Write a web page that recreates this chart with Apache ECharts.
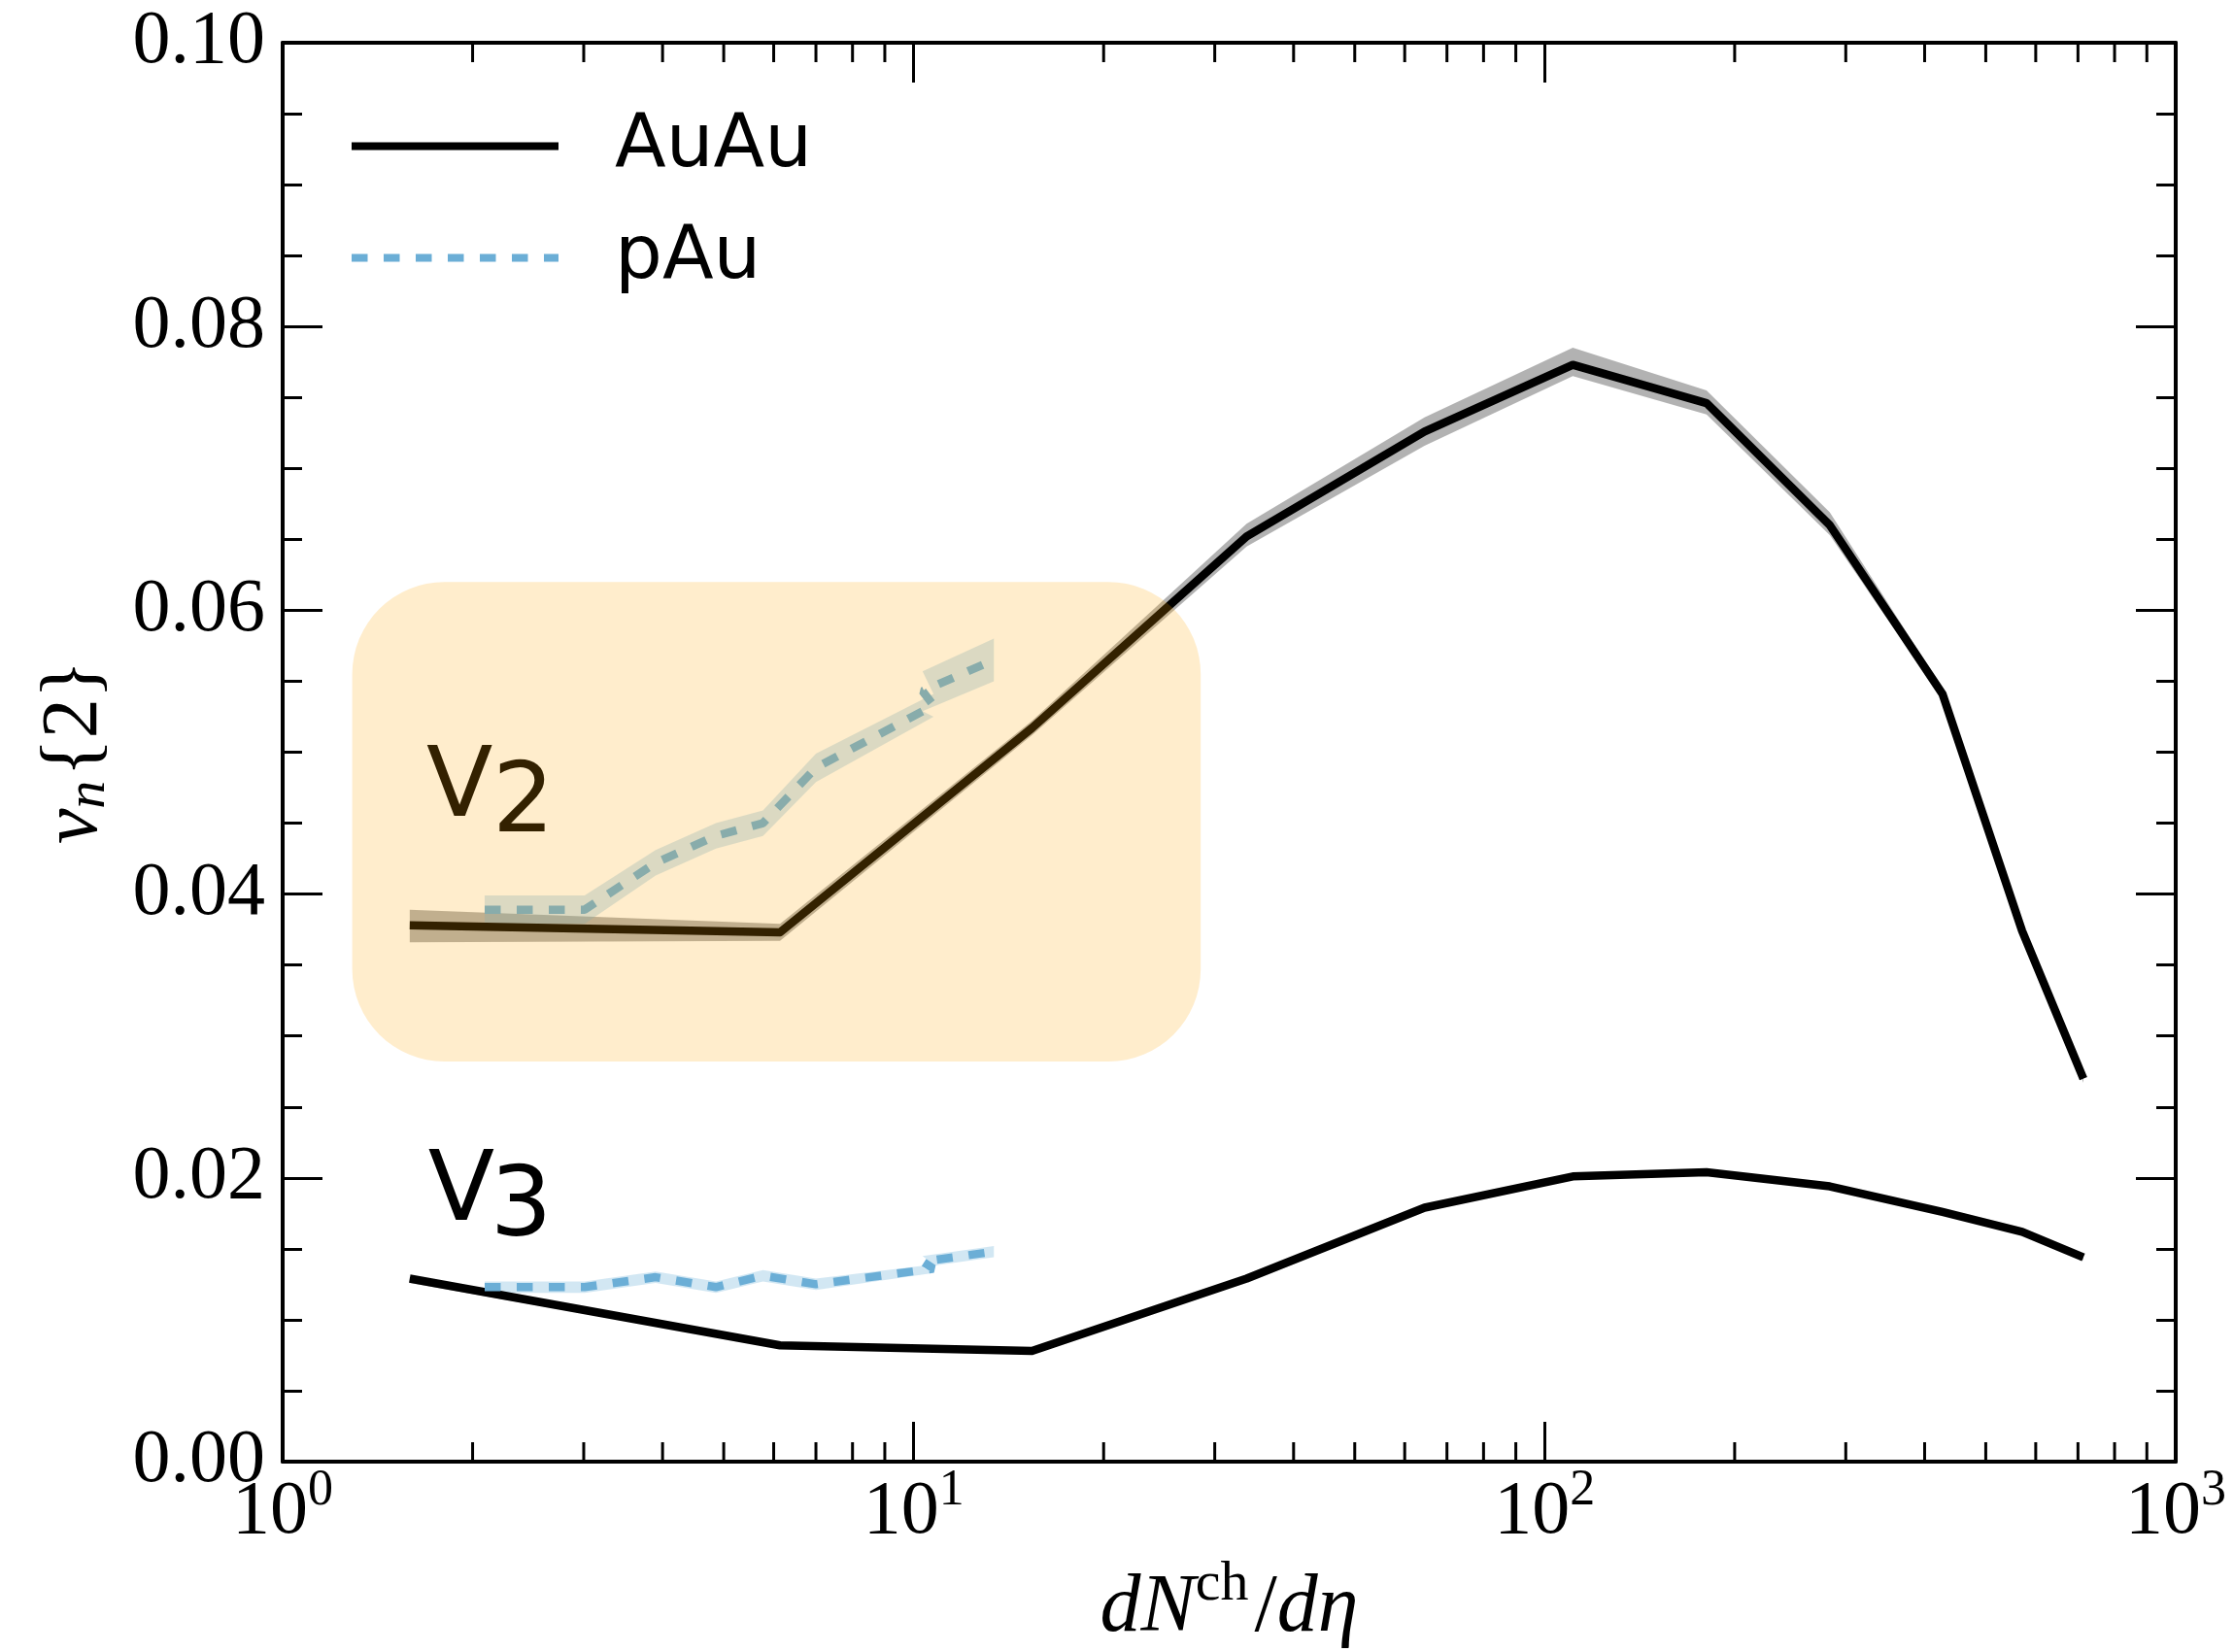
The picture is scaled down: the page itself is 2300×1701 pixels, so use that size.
<!DOCTYPE html>
<html><head><meta charset="utf-8">
<script src="https://cdn.jsdelivr.net/npm/echarts@6/dist/echarts.min.js"></script>
<style>html,body{margin:0;padding:0;background:#fff}#c{width:2300px;height:1701px}</style>
</head><body><div id="c"></div>
<script>
// ---- data ----
const auauX    = [1.59, 6.14, 15.4, 33.7, 64.5, 110.8, 180.5, 283, 427, 571, 714];
const auauV2   = [0.0378, 0.0373, 0.0517, 0.0652, 0.0726, 0.0773, 0.0746, 0.0660, 0.0541, 0.0374, 0.0270];
const auauV2Lo = [0.0366, 0.0367, 0.0512, 0.0645, 0.0716, 0.0765, 0.0738, 0.0653, 0.0537, 0.0371, 0.0267];
const auauV2Hi = [0.0389, 0.0379, 0.0522, 0.0661, 0.0736, 0.0785, 0.0755, 0.0669, 0.0545, 0.0377, 0.0273];
const auauV3   = [0.0129, 0.0082, 0.0078, 0.0129, 0.0179, 0.0201, 0.0204, 0.0194, 0.0176, 0.0162, 0.0144];
const auauV3Lo = [0.0126, 0.0080, 0.0076, 0.0127, 0.0177, 0.0199, 0.0202, 0.0192, 0.0174, 0.0160, 0.0142];
const auauV3Hi = [0.0130, 0.0083, 0.0079, 0.0130, 0.0180, 0.0202, 0.0205, 0.0195, 0.0177, 0.0163, 0.0145];

const pauX     = [2.09, 3.01, 3.90, 4.86, 5.77, 7.00, 10.75, 10.33, 13.4];
const pauV2    = [0.0389, 0.0389, 0.0422, 0.0441, 0.0450, 0.0489, 0.0533, 0.0543, 0.0565];
const pauV2Err = [0.0010, 0.0010, 0.0009, 0.0009, 0.0009, 0.0010, 0.0008, 0.0014, 0.0015];
const pauV3    = [0.0123, 0.0123, 0.0130, 0.0123, 0.0131, 0.0125, 0.0136, 0.0141, 0.0148];
const pauV3Err = [0.0004, 0.0004, 0.0004, 0.0004, 0.0004, 0.0004, 0.0003, 0.0004, 0.0004];

const xMinorTicks = [2,3,4,5,6,7,8,9,20,30,40,50,60,70,80,90,200,300,400,500,600,700,800,900];
const xRange = [1, 1000];
const yRange = [0, 0.1];
const yStep = 0.02;

// annotations (data coordinates)
const boxX = [1.289, 28.5];
const boxY = [0.0282, 0.0620];
const v2Anchor = [1.69, 0.0473];
const v3Anchor = [1.70, 0.0188];

// ---- styles ----
const SERIF = "'Liberation Serif', 'DejaVu Serif', serif";
const SANS = "'DejaVu Sans', sans-serif";
const BLUE = '#6baed6';
const LW = 8.5;

function pairs(xs, ys) { return xs.map((x, i) => [x, ys[i]]); }
function bandSeries(xs, lo, hi, color) {
  return {
    type: 'custom', coordinateSystem: 'cartesian2d', silent: true, z: 1,
    data: xs.map((x, i) => [x, lo[i], hi[i]]),
    encode: { x: 0, y: [1, 2] },
    renderItem(params, api) {
      if (params.dataIndex !== 0) return null;
      const pts = [];
      for (let i = 0; i < xs.length; i++) pts.push(api.coord([xs[i], hi[i]]));
      for (let i = xs.length - 1; i >= 0; i--) pts.push(api.coord([xs[i], lo[i]]));
      return { type: 'polygon', shape: { points: pts }, style: { fill: color } };
    }
  };
}

const axisLine = { show: true, onZero: false, lineStyle: { color: '#000', width: 4 } };
const axisTick = { show: true, inside: true, length: 41, lineStyle: { color: '#000', width: 3 } };

const chart = echarts.init(document.getElementById('c'), null, { renderer: 'canvas' });
chart.setOption({
  animation: false,
  backgroundColor: '#fff',
  grid: { left: 291, right: 60, top: 44, bottom: 196, containLabel: false, outerBoundsMode: 'none' },
  legend: {
    data: ['AuAu', 'pAu'], orient: 'vertical', left: 353, top: 99,
    itemWidth: 213, itemHeight: 20, itemGap: 22,
    itemStyle: { opacity: 0 },
    lineStyle: { width: 8 },
    textStyle: { fontSize: 77, lineHeight: 80, fontFamily: SANS, color: '#000', padding: [13, 0, 0, 53] }
  },
  xAxis: [
    {
      type: 'log', logBase: 10, min: xRange[0], max: xRange[1], position: 'bottom',
      axisLine, axisTick, splitLine: { show: false }, minorTick: { show: false },
      axisLabel: {
        margin: 4, showMinLabel: true, showMaxLabel: true,
        formatter: v => '{b|10}{s|' + Math.round(Math.log10(v)) + '}',
        rich: {
          b: { fontSize: 78, fontFamily: SERIF, color: '#000' },
          s: { fontSize: 52, fontFamily: SERIF, color: '#000', padding: [0, 0, 46, 0] }
        }
      },
      name: '{i|dN}{s|ch}{r|/}{i|dη}', nameLocation: 'middle', nameGap: 98,
      nameTextStyle: {
        rich: {
          i: { fontSize: 84, fontFamily: SERIF, fontStyle: 'italic', color: '#000' },
          s: { fontSize: 58, fontFamily: SERIF, color: '#000', padding: [0, 6, 50, 0] },
          r: { fontSize: 84, fontFamily: SERIF, color: '#000' }
        }
      }
    },
    {
      type: 'log', logBase: 10, min: xRange[0], max: xRange[1], position: 'top',
      axisLine, axisTick, splitLine: { show: false }, axisLabel: { show: false }
    }
  ],
  yAxis: [
    {
      type: 'value', min: yRange[0], max: yRange[1], interval: yStep, position: 'left',
      axisLine, axisTick, splitLine: { show: false },
      minorTick: { show: true, splitNumber: 4, length: 20, lineStyle: { color: '#000', width: 3 } },
      axisLabel: { margin: 18, fontSize: 78, fontFamily: SERIF, color: '#000', formatter: v => v.toFixed(2) },
      name: '{v|v}{n|n}{2}', nameLocation: 'middle', nameRotate: 90, nameGap: 170,
      nameTextStyle: {
        fontSize: 82, fontFamily: SERIF, color: '#000',
        rich: {
          v: { fontSize: 82, fontFamily: SERIF, fontStyle: 'italic', color: '#000' },
          n: { fontSize: 58, fontFamily: SERIF, fontStyle: 'italic', color: '#000', padding: [30, 4, 0, 0] }
        }
      }
    },
    {
      type: 'value', min: yRange[0], max: yRange[1], interval: yStep, position: 'right',
      axisLine, axisTick, splitLine: { show: false }, axisLabel: { show: false },
      minorTick: { show: true, splitNumber: 4, length: 20, lineStyle: { color: '#000', width: 3 } }
    }
  ],
  series: [
    bandSeries(auauX, auauV2Lo, auauV2Hi, 'rgba(0,0,0,0.3)'),
    bandSeries(auauX, auauV3Lo, auauV3Hi, 'rgba(0,0,0,0.3)'),
    bandSeries(pauX, pauV2.map((v, i) => v - pauV2Err[i]), pauV2.map((v, i) => v + pauV2Err[i]), 'rgba(107,174,214,0.3)'),
    bandSeries(pauX, pauV3.map((v, i) => v - pauV3Err[i]), pauV3.map((v, i) => v + pauV3Err[i]), 'rgba(107,174,214,0.3)'),
    { name: 'AuAu', type: 'line', data: pairs(auauX, auauV2), symbol: 'none', z: 3,
      lineStyle: { color: '#000', width: LW, join: 'round' }, itemStyle: { color: '#000' } },
    { name: 'AuAu', type: 'line', data: pairs(auauX, auauV3), symbol: 'none', z: 3,
      lineStyle: { color: '#000', width: LW, join: 'round' }, itemStyle: { color: '#000' } },
    { name: 'pAu', type: 'line', data: pairs(pauX, pauV2), symbol: 'none', z: 3,
      lineStyle: { color: BLUE, width: LW, type: [16.5, 16.5] }, itemStyle: { color: BLUE } },
    { name: 'pAu', type: 'line', data: pairs(pauX, pauV3), symbol: 'none', z: 3,
      lineStyle: { color: BLUE, width: LW, type: [16.5, 16.5] }, itemStyle: { color: BLUE } },
    {
      type: 'custom', coordinateSystem: 'cartesian2d', silent: true, z: 4,
      data: xMinorTicks.map(v => [v, yRange[0]]),
      renderItem(params, api) {
        const v = api.value(0);
        const b = api.coord([v, yRange[0]]);
        const t = api.coord([v, yRange[1]]);
        return { type: 'group', children: [
          { type: 'line', shape: { x1: b[0], y1: b[1], x2: b[0], y2: b[1] - 20 }, style: { stroke: '#000', lineWidth: 3 } },
          { type: 'line', shape: { x1: t[0], y1: t[1], x2: t[0], y2: t[1] + 20 }, style: { stroke: '#000', lineWidth: 3 } }
        ] };
      }
    }
  ]
});

// annotations positioned through the axes
const toPx = p => chart.convertToPixel({ xAxisIndex: 0, yAxisIndex: 0 }, p);
const tl = toPx([boxX[0], boxY[1]]);
const br = toPx([boxX[1], boxY[0]]);
const a2 = toPx(v2Anchor);
const a3 = toPx(v3Anchor);
const labFont = "100px 'DejaVu Sans', sans-serif";
chart.setOption({
  graphic: [
    { type: 'text', x: a2[0], y: a2[1], z: 50, silent: true,
      style: { text: 'V', font: labFont, fill: '#000', verticalAlign: 'middle', align: 'left' } },
    { type: 'text', x: a2[0] + 68, y: a2[1] + 16, z: 50, silent: true,
      style: { text: '2', font: labFont, fill: '#000', verticalAlign: 'middle', align: 'left' } },
    { type: 'text', x: a3[0], y: a3[1], z: 50, silent: true,
      style: { text: 'V', font: labFont, fill: '#000', verticalAlign: 'middle', align: 'left' } },
    { type: 'text', x: a3[0] + 64, y: a3[1] + 16, z: 50, silent: true,
      style: { text: '3', font: labFont, fill: '#000', verticalAlign: 'middle', align: 'left' } },
    { type: 'rect', z: 100, silent: true,
      shape: { x: tl[0], y: tl[1], width: br[0] - tl[0], height: br[1] - tl[1], r: 95 },
      style: { fill: 'rgba(255,165,0,0.2)' } }
  ]
});
</script></body></html>
